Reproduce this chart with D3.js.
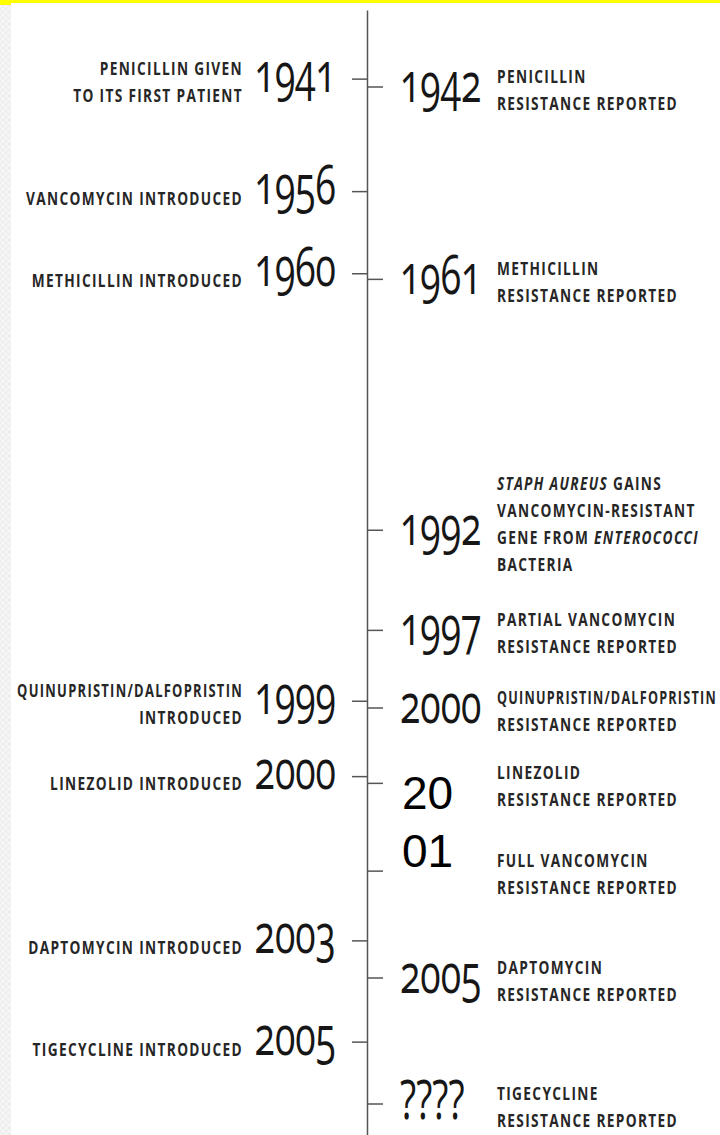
<!DOCTYPE html>
<html>
<head>
<meta charset="utf-8">
<script src="https://cdn.jsdelivr.net/npm/d3@7"></script>
<style>
  body { margin: 0; background: #fff; }
  .year { font-family: "Open Sans", "Noto Sans", sans-serif; font-weight: 400;
          font-variant-numeric: oldstyle-nums; fill: #161616; }
  .label { font-family: "Open Sans", "Noto Sans", sans-serif; font-weight: 700;
           letter-spacing: 1.8px; fill: #262626; }
  .plain { font-family: "Liberation Sans", Arial, sans-serif; fill: #000; }
  .axis path, .axis line { stroke: #555; stroke-width: 1.5; }
</style>
</head>
<body>
<div id="vis"></div>
<script>
// timeline position of every event (0 = top of the line, 100 = bottom)
var leftYears = ['1941', '1956', '1960', '1999', '2000', '2003', '2005'];
var leftPos = [6.1, 16.1, 23.4, 61.4, 68.1, 82.7, 91.7];
var leftLabels = [
    ['PENICILLIN GIVEN', 'TO ITS FIRST PATIENT'],
    ['VANCOMYCIN INTRODUCED'],
    ['METHICILLIN INTRODUCED'],
    ['QUINUPRISTIN/DALFOPRISTIN', 'INTRODUCED'],
    ['LINEZOLID INTRODUCED'],
    ['DAPTOMYCIN INTRODUCED'],
    ['TIGECYCLINE INTRODUCED']
];

// '' = no year printed; the 2001 year is split over two lines in the picture
var rightYears = ['1942', '1961', '1992', '1997', '2000', '2001', '', '2005', '????'];
var rightPos = [6.8, 23.9, 46.2, 55.1, 62.0, 68.7, 76.5, 86.0, 97.2];
var rightLabels = [
    ['PENICILLIN', 'RESISTANCE REPORTED'],
    ['METHICILLIN', 'RESISTANCE REPORTED'],
    ['*STAPH AUREUS* GAINS', 'VANCOMYCIN-RESISTANT', 'GENE FROM *ENTEROCOCCI*', 'BACTERIA'],
    ['PARTIAL VANCOMYCIN', 'RESISTANCE REPORTED'],
    ['QUINUPRISTIN/DALFOPRISTIN', 'RESISTANCE REPORTED'],
    ['LINEZOLID', 'RESISTANCE REPORTED'],
    ['FULL VANCOMYCIN', 'RESISTANCE REPORTED'],
    ['DAPTOMYCIN', 'RESISTANCE REPORTED'],
    ['TIGECYCLINE', 'RESISTANCE REPORTED']
];

var width = 720, height = 1135;
var axisX = 367;

var svg = d3.select("#vis")
    .append("svg")
    .attr("width", width)
    .attr("height", height);

// left decorative strip and yellow top edge
var defs = svg.append("defs");
var pat = defs.append("pattern")
    .attr("id", "strip")
    .attr("width", 6).attr("height", 6)
    .attr("patternUnits", "userSpaceOnUse");
pat.append("rect").attr("width", 6).attr("height", 6).attr("fill", "#f5f5f5");
pat.append("path").attr("d", "M0 3 L3 0 L6 3 L3 6 Z").attr("fill", "none")
    .attr("stroke", "#ececec").attr("stroke-width", 1);
svg.append("rect").attr("x", 0).attr("y", 0).attr("width", 11).attr("height", height)
    .attr("fill", "url(#strip)");
svg.append("rect").attr("x", 0).attr("y", 0).attr("width", width).attr("height", 3)
    .attr("fill", "#ffff00");
svg.append("rect").attr("x", 0).attr("y", 0).attr("width", 11).attr("height", 5)
    .attr("fill", "#ffff00");

var yScale = d3.scaleLinear()
    .domain([0, 100])
    .range([10, height]);

// the timeline itself and ticks on both sides
var leftAxis = d3.axisLeft(yScale)
    .tickValues(leftPos)
    .tickSizeInner(15)
    .tickSizeOuter(0)
    .tickFormat("");

var rightAxis = d3.axisRight(yScale)
    .tickValues(rightPos)
    .tickSizeInner(16)
    .tickSizeOuter(0)
    .tickFormat("");

svg.append("g")
    .attr("class", "axis")
    .attr("transform", "translate(" + axisX + ",0)")
    .call(leftAxis);

var rAxis = svg.append("g")
    .attr("class", "axis")
    .attr("transform", "translate(" + axisX + ",0)")
    .call(rightAxis);
rAxis.select(".domain").remove();
svg.selectAll(".axis .domain").attr("stroke", "#777");
svg.selectAll(".axis .tick line").attr("stroke", "#3a3a3a");

var yearSize = 55, yearSquash = 0.68;
var labelSize = 18.5, labelSquash = 0.74, lineGap = 27;

// write one line, with *...* parts set in italics
var writeLine = function (textSel, line) {
    line.split("*").forEach(function (part, i) {
        if (!part) return;
        textSel.append("tspan")
            .style("font-style", i % 2 ? "italic" : "normal")
            .text(part);
    });
};

// room = widest the line may get on screen
var drawLabel = function (g, lines, anchor, room) {
    var first = 14 - (lines.length - 1) * 18;
    lines.forEach(function (line, i) {
        var t = g.append("text")
            .attr("class", "label")
            .attr("text-anchor", anchor)
            .style("font-size", labelSize + "px");
        writeLine(t, line);
        var len = t.node().getComputedTextLength();
        var sx = Math.min(labelSquash, room / len);
        t.attr("transform", "translate(0," + (first + i * lineGap) + ") scale(" + sx + ",1)");
    });
};

// left side: introductions
leftYears.forEach(function (year, i) {
    var y = yScale(leftPos[i]);
    svg.append("text")
        .attr("class", "year")
        .attr("text-anchor", "end")
        .attr("transform", "translate(336," + (y + 13) + ") scale(" + yearSquash + ",1)")
        .style("font-size", yearSize + "px")
        .text(year);
    var g = svg.append("g").attr("transform", "translate(243," + y + ")");
    drawLabel(g, leftLabels[i], "end", 226);
});

// right side: resistance
rightYears.forEach(function (year, i) {
    var y = yScale(rightPos[i]);
    if (year === '2001') {
        // year broken over two lines in a plain font, as in the source image
        [year.slice(0, 2), year.slice(2)].forEach(function (part, k) {
            svg.append("text")
                .attr("class", "plain")
                .attr("x", 402)
                .attr("y", y + 26 + k * 58)
                .style("font-size", "46px")
                .text(part);
        });
    } else if (year) {
        svg.append("text")
            .attr("class", "year")
            .attr("text-anchor", "start")
            .attr("transform", "translate(400," + (y + 15) + ") scale(" + yearSquash + ",1)")
            .style("font-size", yearSize + "px")
            .text(year);
    }
    var g = svg.append("g").attr("transform", "translate(497," + y + ")");
    drawLabel(g, rightLabels[i], "start", width - 497 - 3);
});
</script>
</body>
</html>
